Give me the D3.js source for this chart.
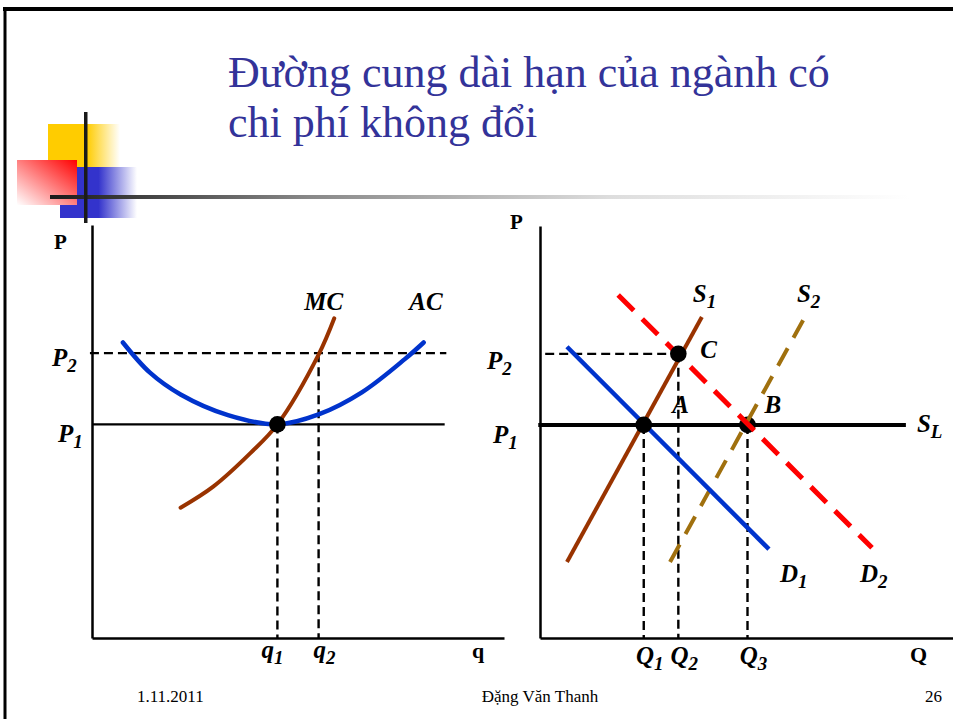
<!DOCTYPE html>
<html>
<head>
<meta charset="utf-8">
<script src="https://cdn.jsdelivr.net/npm/d3@7"></script>
</head>
<body style="margin:0">
<div id="vis"></div>
<script>
// slide texts
const titleLines = ["Đường cung dài hạn của ngành có", "chi phí không đổi"];
const footerTexts = ["1.11.2011", "Đặng Văn Thanh", "26"];

// price levels, same in both panels
const priceSubs = ["1", "2"];
const priceValues = [3, 4];

// firm panel (q, P)
const firmQtySubs = ["1", "2"];
const firmQtyValues = [4.5, 5.5];
const firmQtyTops = [3, 4];
const acCurve = [[0.75, 4.15], [1.4, 3.73], [2.15, 3.42], [3.3, 3.13], [4.5, 3.0],
  [5.5, 3.14], [6.55, 3.45], [7.6, 3.92], [8.05, 4.15]];
const mcCurve = [[2.15, 1.83], [2.95, 2.13], [3.85, 2.6], [4.5, 3.0], [5.5, 3.98], [5.88, 4.49]];
const firmDot = [4.5, 3];

// market panel (Q, P)
const marketQtySubs = ["1", "2", "3"];
const marketQtyValues = [3, 4, 6];
const marketQtyTops = [3, 4, 3];
const d1Line = [[0.78, 4.1], [6.62, 1.25]];
const d2Line = [[2.26, 4.83], [9.6, 1.27]];
const s1Line = [[0.78, 1.07], [4.68, 4.52]];
const s2Line = [[3.76, 1.07], [7.66, 4.52]];
const slLine = [[-0.05, 3], [10.58, 3]];
const marketDots = [[3, 3], [4, 4], [6, 3]];

const width = 953;
const height = 719;
const serif = "Liberation Serif";

const svg = d3.select("#vis").append("svg")
  .attr("width", width)
  .attr("height", height)
  .style("display", "block");

svg.append("rect").attr("width", width).attr("height", height).attr("fill", "#fff");

const defs = svg.append("defs");

function hGrad(id, stops, x1, y1, x2, y2) {
  const g = defs.append("linearGradient").attr("id", id)
    .attr("x1", x1).attr("y1", y1).attr("x2", x2).attr("y2", y2);
  stops.forEach((s) => g.append("stop").attr("offset", s[0]).attr("stop-color", s[1]));
}
hGrad("gYellow", [[0, "#ffcc00"], [0.54, "#ffcc00"], [1, "#ffffff"]], 0, 0, 1, 0);
hGrad("gBlue", [[0, "#3333cc"], [0.5, "#3333cc"], [1, "#ffffff"]], 0, 0, 1, 0);
hGrad("gRed", [[0, "#ff0000"], [1, "#ffffff"]], 1, 0, 0, 1);
hGrad("gRule", [[0, "#1a1a1a"], [0.3, "#888888"], [0.65, "#dddddd"], [1, "#ffffff"]], 0, 0, 1, 0);

// slide frame
svg.append("line").attr("x1", 3).attr("x2", width).attr("y1", 9).attr("y2", 9)
  .attr("stroke", "#000").attr("stroke-width", 4);
svg.append("line").attr("x1", 5).attr("x2", 5).attr("y1", 7).attr("y2", height)
  .attr("stroke", "#000").attr("stroke-width", 3);

// decoration squares
const deco = svg.append("g");
deco.append("rect").attr("x", 48).attr("y", 124).attr("width", 72).attr("height", 43).attr("fill", "url(#gYellow)");
deco.append("rect").attr("x", 60).attr("y", 167).attr("width", 77).attr("height", 51).attr("fill", "url(#gBlue)");
deco.append("rect").attr("x", 17).attr("y", 160).attr("width", 60).attr("height", 45).attr("fill", "url(#gRed)");
deco.append("rect").attr("x", 50).attr("y", 195).attr("width", 860).attr("height", 4).attr("fill", "url(#gRule)");
deco.append("rect").attr("x", 84).attr("y", 112).attr("width", 3.5).attr("height", 111).attr("fill", "#1a1a1a");

function addText(g, x, y, txt) {
  return g.append("text").attr("x", x).attr("y", y)
    .attr("font-family", serif)
    .style("font-family", serif)
    .text(txt);
}

// title
titleLines.forEach((d, i) => {
  addText(svg, 228, 87 + i * 50, d).attr("font-size", 44).attr("fill", "#333399");
});

// footer
footerTexts.forEach((d, i) => {
  addText(svg, [137, 540, 942][i], 702, d)
    .attr("text-anchor", ["start", "middle", "end"][i])
    .attr("font-size", 17);
});

// helper: bold italic label with subscript
function subLabel(g, x, y, main, sub, anchor) {
  const t = addText(g, x, y, main)
    .attr("text-anchor", anchor || "start")
    .attr("font-weight", "bold").attr("font-style", "italic")
    .attr("font-size", 25);
  if (sub) t.append("tspan").attr("dy", 6).attr("font-size", 19).text(sub);
  return t;
}

function axisLabel(g, x, y, txt, size) {
  addText(g, x, y, txt).attr("font-weight", "bold").attr("font-size", size);
}

const line = (x, y) => d3.line().x((d) => x(d[0])).y((d) => y(d[1]));
const dash = "9,5";

// ---------- firm panel ----------
const xFirm = d3.scaleLinear().domain([0, 10]).range([92, 504]);
const yFirm = d3.scaleLinear().domain([0, 5.8]).range([638, 225]);
const firm = svg.append("g");

firm.append("g").attr("transform", "translate(0,638)")
  .call(d3.axisBottom(xFirm).tickValues([]).tickSizeOuter(0))
  .select(".domain").attr("stroke-width", 2.5);
firm.append("g").attr("transform", "translate(92,0)")
  .call(d3.axisLeft(yFirm).tickValues([]).tickSizeOuter(0))
  .select(".domain").attr("stroke-width", 2.5);

// P1 solid, P2 dashed
firm.append("line").attr("x1", xFirm(0.02)).attr("x2", xFirm(8.56))
  .attr("y1", yFirm(priceValues[0])).attr("y2", yFirm(priceValues[0]))
  .attr("stroke", "#000").attr("stroke-width", 2.4);
firm.append("line").attr("x1", xFirm(-0.05)).attr("x2", xFirm(8.6))
  .attr("y1", yFirm(priceValues[1])).attr("y2", yFirm(priceValues[1]))
  .attr("stroke", "#000").attr("stroke-width", 2.4).attr("stroke-dasharray", dash);

firm.selectAll(".qguide").data(firmQtyValues).enter().append("line")
  .attr("x1", (d) => xFirm(d)).attr("x2", (d) => xFirm(d))
  .attr("y1", (d, i) => yFirm(firmQtyTops[i])).attr("y2", yFirm(0))
  .attr("stroke", "#000").attr("stroke-width", 2.4).attr("stroke-dasharray", dash);

firm.append("path").datum(acCurve)
  .attr("d", line(xFirm, yFirm).curve(d3.curveCatmullRom))
  .attr("fill", "none").attr("stroke", "#0033cc").attr("stroke-width", 4.5).attr("stroke-linecap", "round");
firm.append("path").datum(mcCurve)
  .attr("d", line(xFirm, yFirm).curve(d3.curveCatmullRom))
  .attr("fill", "none").attr("stroke", "#993300").attr("stroke-width", 4).attr("stroke-linecap", "round");

firm.append("circle").attr("cx", xFirm(firmDot[0])).attr("cy", yFirm(firmDot[1])).attr("r", 8.3).attr("fill", "#000");

// firm labels
axisLabel(firm, 54, 249, "P", 21);
axisLabel(firm, 472, 658, "q", 22);
priceValues.forEach((p, i) => subLabel(firm, [58, 52][i], yFirm(p) + [18, 13][i], "P", priceSubs[i]));
firmQtyValues.forEach((q, i) => subLabel(firm, xFirm(q) + [-5, 6][i], 658, "q", firmQtySubs[i], "middle"));
const mcEnd = mcCurve[mcCurve.length - 1];
const acEnd = acCurve[acCurve.length - 1];
subLabel(firm, xFirm(mcEnd[0]) + 9, yFirm(mcEnd[1]) - 8, "MC", null, "end");
subLabel(firm, xFirm(acEnd[0]) + 19, yFirm(acEnd[1]) - 32, "AC", null, "end");

// ---------- market panel ----------
const xMkt = d3.scaleLinear().domain([0, 12]).range([540, 955]);
const yMkt = d3.scaleLinear().domain([0, 5.8]).range([638, 226]);
const mkt = svg.append("g");

mkt.append("g").attr("transform", "translate(0,638)")
  .call(d3.axisBottom(xMkt).tickValues([]).tickSizeOuter(0))
  .select(".domain").attr("stroke-width", 2.5);
mkt.append("g").attr("transform", "translate(540,0)")
  .call(d3.axisLeft(yMkt).tickValues([]).tickSizeOuter(0))
  .select(".domain").attr("stroke-width", 2.5);

// P2 dashed to point C
mkt.append("line").attr("x1", xMkt(0.15)).attr("x2", xMkt(marketDots[1][0]))
  .attr("y1", yMkt(priceValues[1])).attr("y2", yMkt(priceValues[1]))
  .attr("stroke", "#000").attr("stroke-width", 2.4).attr("stroke-dasharray", dash);

mkt.selectAll(".qguide").data(marketQtyValues).enter().append("line")
  .attr("x1", (d) => xMkt(d)).attr("x2", (d) => xMkt(d))
  .attr("y1", (d, i) => yMkt(marketQtyTops[i])).attr("y2", yMkt(0))
  .attr("stroke", "#000").attr("stroke-width", 2.4).attr("stroke-dasharray", dash);

const mLine = line(xMkt, yMkt);
const dotB = marketDots[2];
mkt.append("path").datum(slLine).attr("d", mLine)
  .attr("fill", "none").attr("stroke", "#000").attr("stroke-width", 4);
// B sits under the shifted curves
mkt.append("circle").attr("cx", xMkt(dotB[0])).attr("cy", yMkt(dotB[1])).attr("r", 8.3).attr("fill", "#000");
mkt.append("path").datum(s2Line).attr("d", mLine)
  .attr("fill", "none").attr("stroke", "#a0700e").attr("stroke-width", 4).attr("stroke-dasharray", "20,12");
mkt.append("path").datum(d2Line).attr("d", mLine)
  .attr("fill", "none").attr("stroke", "#ff0000").attr("stroke-width", 5).attr("stroke-dasharray", "22,12");
mkt.append("path").datum(s1Line).attr("d", mLine)
  .attr("fill", "none").attr("stroke", "#993300").attr("stroke-width", 4);
mkt.append("path").datum(d1Line).attr("d", mLine)
  .attr("fill", "none").attr("stroke", "#0033cc").attr("stroke-width", 4.5);

mkt.selectAll(".dot").data(marketDots.slice(0, 2)).enter().append("circle")
  .attr("cx", (d) => xMkt(d[0])).attr("cy", (d) => yMkt(d[1])).attr("r", 8.3).attr("fill", "#000");

// market labels
axisLabel(mkt, 510, 229, "P", 21);
axisLabel(mkt, 910, 662, "Q", 22);
priceValues.forEach((p, i) => subLabel(mkt, [493, 487][i], yMkt(p) + [18, 15][i], "P", priceSubs[i]));
marketQtyValues.forEach((q, i) => subLabel(mkt, xMkt(q) + 6, 664, "Q", marketQtySubs[i], "middle"));

subLabel(mkt, xMkt(s1Line[1][0]) - 9, yMkt(s1Line[1][1]) - 15, "S", "1");
subLabel(mkt, xMkt(s2Line[1][0]) - 8, yMkt(s2Line[1][1]) - 15, "S", "2");
subLabel(mkt, xMkt(d1Line[1][0]) + 11, yMkt(d1Line[1][1]) + 33, "D", "1");
subLabel(mkt, xMkt(d2Line[1][0]) - 12, yMkt(d2Line[1][1]) + 34, "D", "2");
subLabel(mkt, xMkt(slLine[1][0]) + 11, yMkt(slLine[1][1]) + 7, "S", "L");
subLabel(mkt, xMkt(marketDots[1][0]) + 22, yMkt(marketDots[1][1]) + 4, "C");
subLabel(mkt, xMkt(marketDots[1][0]) - 6, yMkt(priceValues[0]) - 12, "A");
subLabel(mkt, xMkt(dotB[0]) + 17, yMkt(dotB[1]) - 12, "B");
</script>
</body>
</html>
